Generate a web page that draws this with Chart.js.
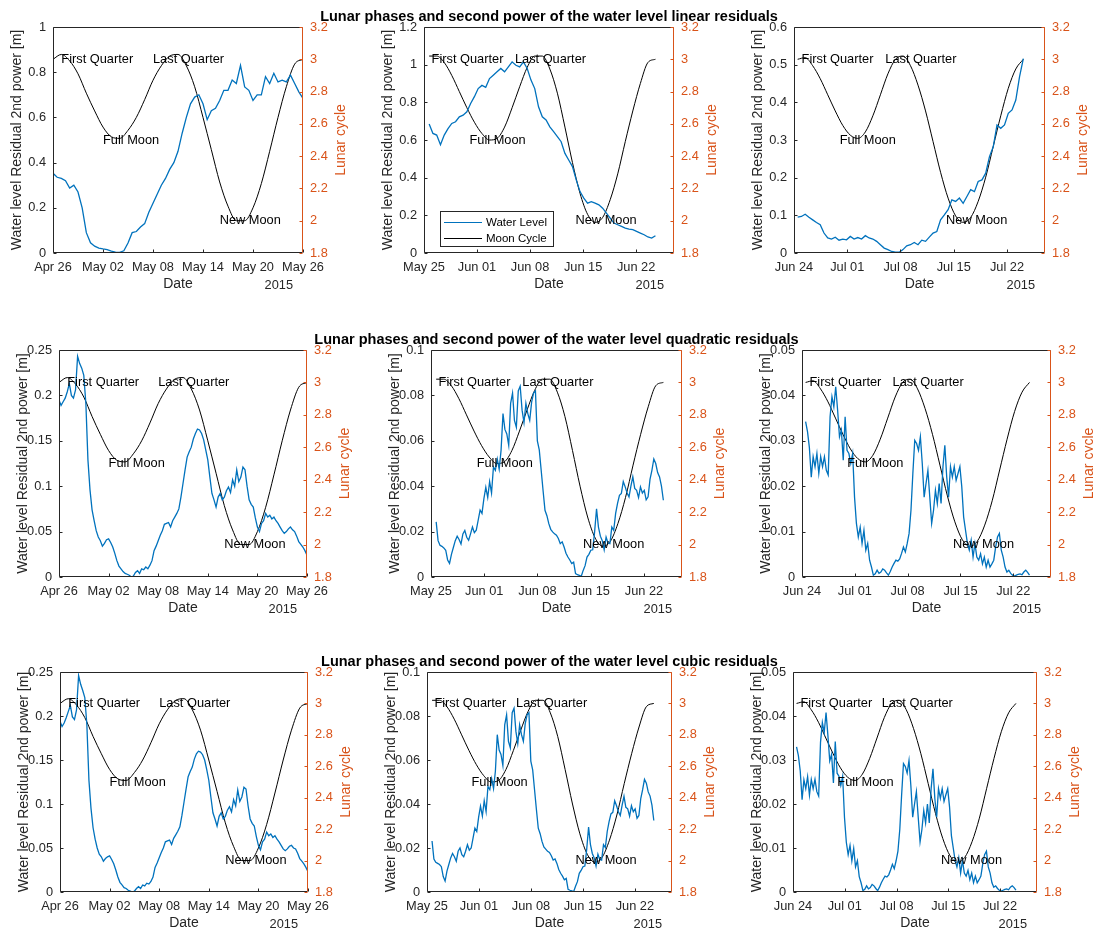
<!DOCTYPE html>
<html>
<head>
<meta charset="utf-8">
<title>Lunar phases and water level residuals</title>
<script src="https://cdn.jsdelivr.net/npm/chart.js@4.4.1/dist/chart.umd.min.js"></script>
<style>
  html, body { margin: 0; padding: 0; background: #fff; }
  body { width: 1093px; height: 931px; position: relative; overflow: hidden; }
  canvas { position: absolute; }
  .fig-title {
    position: absolute; width: 640px; text-align: center; white-space: nowrap;
    font: bold 14.5px "Liberation Sans", Arial, Helvetica, sans-serif; line-height: 16px; color: #000;
  }
</style>
</head>
<body>
<script>
// --- Date axes (days after the first tick of each window) ---
const tickDaysApr = [0, 6, 12, 18, 24, 30];
const tickLabelsApr = ['Apr 26', 'May 02', 'May 08', 'May 14', 'May 20', 'May 26'];
const tickDaysWeekly = [0, 7, 14, 21, 28];
const tickLabelsMay = ['May 25', 'Jun 01', 'Jun 08', 'Jun 15', 'Jun 22'];
const tickLabelsJun = ['Jun 24', 'Jul 01', 'Jul 08', 'Jul 15', 'Jul 22'];
const yearLabel = '2015';

// first / last sample time of each window, in days
const spanApr = [0, 30];
const spanMay = [0.68, 30.55];
const spanJun = [0.48, 30.15];

// --- Moon phase annotations ---
const phaseNames = ['First Quarter', 'Full Moon', 'Last Quarter', 'New Moon'];
const phaseDays = [1, 6, 12, 20];
const phaseLevels = [3, 2.5, 3, 2];

// --- Lunar cycle (one value per day) ---
const moonApr = [3.00, 3.03, 2.99, 2.91, 2.79, 2.68, 2.58, 2.52, 2.51, 2.56, 2.64, 2.75, 2.87, 2.96, 3.02, 3.03,
  2.96, 2.83, 2.64, 2.44, 2.24, 2.09, 2.00, 2.00, 2.08, 2.23, 2.43, 2.64, 2.83, 2.97, 3.00];
const moonMay = [3.02, 3.02, 2.98, 2.90, 2.80, 2.70, 2.61, 2.54, 2.50, 2.51, 2.58, 2.70, 2.83, 2.95, 3.02, 3.02,
  2.94, 2.79, 2.58, 2.36, 2.17, 2.04, 1.99, 2.02, 2.13, 2.29, 2.49, 2.68, 2.85, 2.98, 3.00];
const moonJun = [3.00, 3.01, 2.96, 2.88, 2.78, 2.68, 2.59, 2.53, 2.51, 2.55, 2.65, 2.78, 2.91, 3.00, 3.02, 2.96,
  2.84, 2.68, 2.49, 2.30, 2.14, 2.03, 1.99, 2.02, 2.12, 2.27, 2.46, 2.65, 2.82, 2.94, 3.00];

// --- Squared residuals, linear fit (12 h samples) ---
const linApr = [0.353, 0.335, 0.33, 0.32, 0.287, 0.30, 0.27, 0.20, 0.09, 0.045,
  0.03, 0.022, 0.018, 0.015, 0.008, 0.004, 0.003, 0.01, 0.044, 0.09,
  0.095, 0.115, 0.13, 0.18, 0.22, 0.26, 0.30, 0.33, 0.37, 0.40,
  0.45, 0.53, 0.60, 0.66, 0.69, 0.70, 0.66, 0.59, 0.63, 0.64,
  0.675, 0.72, 0.72, 0.765, 0.75, 0.83, 0.735, 0.72, 0.675, 0.70,
  0.70, 0.78, 0.75, 0.795, 0.757, 0.765, 0.757, 0.787, 0.75, 0.713, 0.684];
const linMay = [0.685, 0.635, 0.626, 0.575, 0.626, 0.66, 0.688, 0.697, 0.723, 0.732,
  0.75, 0.794, 0.83, 0.873, 0.89, 0.88, 0.926, 0.944, 0.962, 0.98,
  0.962, 0.988, 1.015, 0.997, 0.988, 1.015, 0.98, 0.918, 0.873, 0.776,
  0.723, 0.706, 0.67, 0.644, 0.618, 0.591, 0.529, 0.494, 0.459, 0.388,
  0.326, 0.291, 0.265, 0.273, 0.265, 0.256, 0.238, 0.212, 0.185, 0.159,
  0.15, 0.141, 0.132, 0.127, 0.124, 0.115, 0.106, 0.097, 0.085, 0.079, 0.092];
const linJun = [0.095, 0.097, 0.103, 0.095, 0.088, 0.081, 0.075, 0.053, 0.040, 0.037,
  0.042, 0.034, 0.037, 0.035, 0.044, 0.037, 0.041, 0.037, 0.046, 0.040,
  0.037, 0.031, 0.022, 0.013, 0.009, 0.004, 0.002, 0.002, 0.009, 0.019,
  0.022, 0.028, 0.022, 0.034, 0.031, 0.042, 0.053, 0.057, 0.088, 0.101,
  0.115, 0.141, 0.137, 0.146, 0.132, 0.150, 0.168, 0.163, 0.190, 0.194,
  0.212, 0.256, 0.282, 0.340, 0.331, 0.340, 0.371, 0.380, 0.406, 0.468, 0.516];

// --- Squared residuals, quadratic fit (6 h samples) ---
const quadApr = [0.195, 0.189, 0.193, 0.197, 0.204, 0.213, 0.200, 0.197, 0.206, 0.243, 0.235, 0.230,
  0.222, 0.191, 0.129, 0.096, 0.074, 0.062, 0.051, 0.044, 0.040, 0.034, 0.037, 0.041,
  0.042, 0.038, 0.033, 0.026, 0.018, 0.012, 0.009, 0.006, 0.004, 0.003, 0.002, 0.000,
  0.001, 0.005, 0.007, 0.004, 0.009, 0.008, 0.011, 0.009, 0.013, 0.018, 0.029, 0.034,
  0.040, 0.046, 0.051, 0.058, 0.059, 0.060, 0.055, 0.062, 0.066, 0.070, 0.075, 0.088,
  0.103, 0.118, 0.132, 0.138, 0.143, 0.152, 0.158, 0.163, 0.162, 0.158, 0.151, 0.140,
  0.129, 0.110, 0.092, 0.085, 0.077, 0.088, 0.092, 0.085, 0.088, 0.095, 0.099, 0.093,
  0.107, 0.100, 0.118, 0.105, 0.110, 0.121, 0.118, 0.100, 0.085, 0.080, 0.077, 0.065,
  0.055, 0.050, 0.059, 0.062, 0.070, 0.066, 0.068, 0.064, 0.066, 0.062, 0.059, 0.055,
  0.051, 0.048, 0.050, 0.053, 0.055, 0.052, 0.050, 0.045, 0.039, 0.036, 0.033, 0.029, 0.024];
const quadMay = [0.0243, 0.016, 0.014, 0.0135, 0.0128, 0.0118, 0.0075, 0.006, 0.010, 0.013,
  0.016, 0.018, 0.0165, 0.0145, 0.019, 0.0205, 0.0175, 0.0162, 0.019, 0.022,
  0.0195, 0.0206, 0.025, 0.0295, 0.028, 0.0345, 0.0395, 0.035, 0.042, 0.037,
  0.0485, 0.047, 0.052, 0.0475, 0.0559, 0.072, 0.065, 0.063, 0.058, 0.0765,
  0.081, 0.069, 0.066, 0.082, 0.084, 0.0735, 0.068, 0.0765, 0.072, 0.069,
  0.077, 0.081, 0.082, 0.060, 0.056, 0.047, 0.038, 0.0294, 0.027, 0.0235,
  0.021, 0.0199, 0.019, 0.0184, 0.017, 0.0147, 0.0155, 0.0132, 0.0105, 0.0088,
  0.0075, 0.0059, 0.0065, 0.0015, 0.001, 0.0007, 0.0003, 0.0029, 0.005, 0.0088,
  0.010, 0.0118, 0.012, 0.020, 0.030, 0.022, 0.018, 0.016, 0.012, 0.0176,
  0.015, 0.0147, 0.022, 0.0206, 0.028, 0.0324, 0.036, 0.0368, 0.042, 0.0397,
  0.037, 0.0353, 0.040, 0.0441, 0.039, 0.0382, 0.035, 0.0397, 0.037, 0.0382,
  0.034, 0.0353, 0.043, 0.047, 0.052, 0.050, 0.046, 0.0441, 0.040, 0.0338];
const quadJun = [0.0342, 0.032, 0.0285, 0.022, 0.0265, 0.0243, 0.0272, 0.0228, 0.0265, 0.0243,
  0.0265, 0.0235, 0.0225, 0.0353, 0.0397, 0.0375, 0.0419, 0.0368, 0.0309, 0.0324,
  0.0257, 0.0353, 0.0279, 0.0272, 0.025, 0.0272, 0.0176, 0.0118, 0.0088, 0.011,
  0.0074, 0.0103, 0.0059, 0.0074, 0.0037, 0.0022, 0.0004, 0.0007, 0.0015, 0.0008,
  0.0011, 0.0018, 0.0015, 0.0009, 0.0004, 0.0012, 0.0022, 0.003, 0.0037, 0.0035,
  0.004, 0.0052, 0.0066, 0.0055, 0.0074, 0.0096, 0.0147, 0.0228, 0.0301, 0.0294,
  0.0279, 0.0309, 0.025, 0.0176, 0.0206, 0.0235, 0.0176, 0.0118, 0.0147, 0.0191,
  0.0162, 0.0206, 0.0162, 0.0243, 0.029, 0.022, 0.0176, 0.0243, 0.022, 0.0243,
  0.0213, 0.0228, 0.0243, 0.0199, 0.0132, 0.0103, 0.0074, 0.0059, 0.0081, 0.0044,
  0.0074, 0.0044, 0.0037, 0.0051, 0.0029, 0.0044, 0.0022, 0.0037, 0.0022, 0.0029,
  0.0037, 0.0066, 0.0088, 0.0096, 0.0059, 0.0044, 0.0022, 0.0011, 0.0015, 0.0008,
  0.0004, 0.0002, 0.0004, 0.0006, 0.0007, 0.0005, 0.0011, 0.0015, 0.001, 0.0004];

// --- Squared residuals, cubic fit (6 h samples) ---
const cubApr = [0.194, 0.188, 0.192, 0.198, 0.205, 0.212, 0.199, 0.196, 0.207, 0.246, 0.236, 0.229,
  0.221, 0.190, 0.127, 0.095, 0.073, 0.060, 0.050, 0.043, 0.040, 0.035, 0.038, 0.040,
  0.041, 0.037, 0.032, 0.025, 0.017, 0.011, 0.008, 0.005, 0.004, 0.002, 0.001, 0.000,
  0.001, 0.004, 0.006, 0.004, 0.008, 0.007, 0.010, 0.009, 0.012, 0.017, 0.028, 0.033,
  0.039, 0.045, 0.050, 0.057, 0.058, 0.059, 0.054, 0.061, 0.065, 0.069, 0.074, 0.087,
  0.102, 0.117, 0.131, 0.137, 0.142, 0.151, 0.157, 0.160, 0.159, 0.156, 0.150, 0.139,
  0.127, 0.108, 0.090, 0.083, 0.075, 0.086, 0.090, 0.083, 0.086, 0.093, 0.097, 0.091,
  0.105, 0.098, 0.116, 0.103, 0.108, 0.119, 0.117, 0.098, 0.083, 0.078, 0.075, 0.063,
  0.053, 0.048, 0.057, 0.060, 0.068, 0.064, 0.066, 0.062, 0.064, 0.060, 0.057, 0.053,
  0.049, 0.047, 0.049, 0.052, 0.053, 0.050, 0.049, 0.044, 0.038, 0.035, 0.032, 0.028, 0.023];
const cubMay = [0.0232, 0.015, 0.0135, 0.013, 0.0125, 0.0115, 0.007, 0.005, 0.0095, 0.0125,
  0.0155, 0.0175, 0.016, 0.014, 0.0185, 0.020, 0.017, 0.016, 0.0185, 0.0215,
  0.019, 0.020, 0.0245, 0.029, 0.0275, 0.034, 0.039, 0.0345, 0.0415, 0.0365,
  0.048, 0.0465, 0.0515, 0.047, 0.055, 0.0715, 0.0645, 0.0625, 0.0575, 0.076,
  0.0805, 0.0685, 0.0655, 0.0815, 0.0835, 0.073, 0.0675, 0.076, 0.0715, 0.0685,
  0.0765, 0.0805, 0.0815, 0.0595, 0.0555, 0.0465, 0.0375, 0.029, 0.0265, 0.023,
  0.0205, 0.0195, 0.0185, 0.018, 0.0165, 0.0145, 0.015, 0.013, 0.0102, 0.0085,
  0.0072, 0.0056, 0.0062, 0.0012, 0.0008, 0.0005, 0.0002, 0.0026, 0.0047, 0.0085,
  0.0098, 0.0115, 0.0118, 0.0195, 0.0295, 0.0215, 0.0175, 0.0155, 0.0118, 0.0172,
  0.0148, 0.0145, 0.0215, 0.0202, 0.0275, 0.032, 0.0355, 0.0362, 0.0415, 0.0392,
  0.0365, 0.0348, 0.0395, 0.0435, 0.0385, 0.0378, 0.0345, 0.0392, 0.0365, 0.0378,
  0.0335, 0.0348, 0.0425, 0.0465, 0.0512, 0.0495, 0.0455, 0.0436, 0.0395, 0.0325];
const cubJun = [0.033, 0.031, 0.0275, 0.021, 0.0255, 0.0235, 0.0262, 0.022, 0.0256, 0.0235,
  0.0256, 0.0228, 0.0218, 0.034, 0.0385, 0.0362, 0.0408, 0.0356, 0.0298, 0.0313,
  0.0248, 0.0342, 0.027, 0.0263, 0.0242, 0.0263, 0.017, 0.0113, 0.0085, 0.0106,
  0.0071, 0.0099, 0.0057, 0.0071, 0.0035, 0.0021, 0.0003, 0.0006, 0.0014, 0.0007,
  0.001, 0.0017, 0.0014, 0.0008, 0.0003, 0.0011, 0.0021, 0.0029, 0.0036, 0.0034,
  0.0039, 0.005, 0.0063, 0.0053, 0.0071, 0.0093, 0.0142, 0.0221, 0.0292, 0.0285,
  0.027, 0.0299, 0.0242, 0.017, 0.02, 0.0228, 0.017, 0.0114, 0.0142, 0.0185,
  0.0157, 0.02, 0.0157, 0.0235, 0.028, 0.0213, 0.017, 0.0235, 0.0213, 0.0235,
  0.0206, 0.0221, 0.0235, 0.0193, 0.0128, 0.01, 0.0072, 0.0057, 0.0078, 0.0043,
  0.0072, 0.0043, 0.0036, 0.0049, 0.0028, 0.0043, 0.0021, 0.0036, 0.0021, 0.0028,
  0.0036, 0.0064, 0.0085, 0.0093, 0.0057, 0.0043, 0.0021, 0.0011, 0.0014, 0.0008,
  0.0004, 0.0002, 0.0004, 0.0006, 0.0007, 0.0005, 0.0011, 0.0014, 0.001, 0.0004];

// --- Look ---
const AXIS_INK = '#262626';
const LUNAR_INK = '#D95319';
const WATER_BLUE = '#0072BD';
const FONT = '"Liberation Sans", Arial, Helvetica, sans-serif';
const FONT_SIZE = 12.8;     // ticks, annotations, year
const LABEL_SIZE = 14;      // axis labels are a bit larger
const PAD_L = 52, PAD_R = 52, PAD_T = 22, PAD_B = 40;

Chart.defaults.font.family = FONT;
Chart.defaults.font.size = FONT_SIZE;
Chart.defaults.color = AXIS_INK;

// plot-area rectangles [left, top, width, height] in page pixels
const panels = [
  { water: linApr, moon: moonApr, span: spanApr, yMax: 1, yStep: 0.2, xMax: 30,
    tickDays: tickDaysApr, tickLabels: tickLabelsApr, box: [53, 27, 250, 226] },
  { water: linMay, moon: moonMay, span: spanMay, yMax: 1.2, yStep: 0.2, xMax: 33,
    tickDays: tickDaysWeekly, tickLabels: tickLabelsMay, box: [424, 27, 250, 226],
    title: 'Lunar phases and second power of the water level linear residuals', legend: true },
  { water: linJun, moon: moonJun, span: spanJun, yMax: 0.6, yStep: 0.1, xMax: 33,
    tickDays: tickDaysWeekly, tickLabels: tickLabelsJun, box: [794, 27, 251, 226] },

  { water: quadApr, moon: moonApr, span: spanApr, yMax: 0.25, yStep: 0.05, xMax: 30,
    tickDays: tickDaysApr, tickLabels: tickLabelsApr, box: [59, 350, 248, 227] },
  { water: quadMay, moon: moonMay, span: spanMay, yMax: 0.1, yStep: 0.02, xMax: 33,
    tickDays: tickDaysWeekly, tickLabels: tickLabelsMay, box: [431, 350, 251, 227],
    title: 'Lunar phases and second power of the water level quadratic residuals' },
  { water: quadJun, moon: moonJun, span: spanJun, yMax: 0.05, yStep: 0.01, xMax: 33,
    tickDays: tickDaysWeekly, tickLabels: tickLabelsJun, box: [802, 350, 249, 227] },

  { water: cubApr, moon: moonApr, span: spanApr, yMax: 0.25, yStep: 0.05, xMax: 30,
    tickDays: tickDaysApr, tickLabels: tickLabelsApr, box: [60, 672, 248, 220] },
  { water: cubMay, moon: moonMay, span: spanMay, yMax: 0.1, yStep: 0.02, xMax: 33,
    tickDays: tickDaysWeekly, tickLabels: tickLabelsMay, box: [427, 672, 245, 220],
    title: 'Lunar phases and second power of the water level cubic residuals' },
  { water: cubJun, moon: moonJun, span: spanJun, yMax: 0.05, yStep: 0.01, xMax: 33,
    tickDays: tickDaysWeekly, tickLabels: tickLabelsJun, box: [793, 672, 244, 220] }
];

// spread a series evenly over its sampling window
function samples(values, span) {
  const dt = (span[1] - span[0]) / (values.length - 1);
  return values.map((v, i) => ({ x: span[0] + i * dt, y: v }));
}

// plain tick numbers: 1 instead of 1.0, 0.2 instead of 0.20
const plainNumber = v => String(Number(v.toFixed(4)));

// axes box, inward ticks, phase labels, right label and legend
function makeFramePlugin(panel) {
  return {
    id: 'frame',
    afterDatasetsDraw(chart) {
      const { ctx, chartArea: a, scales } = chart;
      const L = a.left + 0.5, R = a.right - 0.5, T = a.top + 0.5, B = a.bottom - 0.5;
      ctx.save();
      ctx.lineWidth = 1;

      ctx.strokeStyle = AXIS_INK;
      ctx.beginPath();
      ctx.moveTo(R, T); ctx.lineTo(L, T); ctx.lineTo(L, B); ctx.lineTo(R, B);
      scales.x.ticks.forEach(t => {
        const px = Math.round(scales.x.getPixelForValue(t.value)) + 0.5;
        ctx.moveTo(px, B); ctx.lineTo(px, B - 3);
      });
      scales.y.ticks.forEach(t => {
        const py = Math.round(scales.y.getPixelForValue(t.value)) + 0.5;
        ctx.moveTo(L, py); ctx.lineTo(L + 3, py);
      });
      ctx.stroke();

      ctx.strokeStyle = LUNAR_INK;
      ctx.beginPath();
      ctx.moveTo(R, T); ctx.lineTo(R, B);
      scales.y2.ticks.forEach(t => {
        const py = Math.round(scales.y2.getPixelForValue(t.value)) + 0.5;
        ctx.moveTo(R, py); ctx.lineTo(R - 3, py);
      });
      ctx.stroke();

      ctx.font = `${FONT_SIZE}px ${FONT}`;
      ctx.fillStyle = '#000';
      ctx.textAlign = 'left';
      ctx.textBaseline = 'middle';
      phaseNames.forEach((name, i) => {
        ctx.fillText(name, scales.x.getPixelForValue(phaseDays[i]), scales.y2.getPixelForValue(phaseLevels[i]));
      });

      ctx.fillStyle = AXIS_INK;
      ctx.textAlign = 'right';
      ctx.fillText(yearLabel, a.right - 10, a.bottom + 32);

      ctx.save();
      ctx.font = `${LABEL_SIZE}px ${FONT}`;
      ctx.translate(a.right + 38, (a.top + a.bottom) / 2);
      ctx.rotate(-Math.PI / 2);
      ctx.textAlign = 'center';
      ctx.fillStyle = LUNAR_INK;
      ctx.fillText('Lunar cycle', 0, 0);
      ctx.restore();

      if (panel.legend) {
        const lx = a.left + 16, ly = a.top + 184, lw = 113, lh = 35;
        ctx.fillStyle = '#fff';
        ctx.fillRect(lx, ly, lw, lh);
        ctx.strokeStyle = AXIS_INK;
        ctx.strokeRect(lx + 0.5, ly + 0.5, lw, lh);
        ctx.font = `11.5px ${FONT}`;
        ctx.textAlign = 'left';
        chart.data.datasets.forEach((ds, i) => {
          const yy = ly + 11 + i * 16 + 0.5;
          ctx.strokeStyle = ds.borderColor;
          ctx.lineWidth = 1;
          ctx.beginPath();
          ctx.moveTo(lx + 4, yy); ctx.lineTo(lx + 42, yy);
          ctx.stroke();
          ctx.fillStyle = '#000';
          ctx.fillText(ds.label, lx + 46, yy);
        });
      }
      ctx.restore();
    }
  };
}

panels.forEach(panel => {
  const [left, top, w, h] = panel.box;
  const canvas = document.createElement('canvas');
  canvas.width = w + PAD_L + PAD_R;
  canvas.height = h + PAD_T + PAD_B;
  canvas.style.left = (left - PAD_L) + 'px';
  canvas.style.top = (top - PAD_T) + 'px';
  document.body.appendChild(canvas);

  if (panel.title) {
    const t = document.createElement('div');
    t.className = 'fig-title';
    t.textContent = panel.title;
    t.style.left = (left + w / 2 - 320) + 'px';
    t.style.top = (top - 11 - 8) + 'px';
    document.body.appendChild(t);
  }

  new Chart(canvas, {
    type: 'line',
    data: {
      datasets: [
        { label: 'Water Level', data: samples(panel.water, panel.span), yAxisID: 'y',
          borderColor: WATER_BLUE, borderWidth: 1.3, pointRadius: 0, tension: 0 },
        { label: 'Moon Cycle', data: samples(panel.moon, panel.span), yAxisID: 'y2',
          borderColor: '#000', borderWidth: 1, pointRadius: 0, cubicInterpolationMode: 'monotone' }
      ]
    },
    options: {
      responsive: false,
      animation: false,
      devicePixelRatio: 1,
      layout: { padding: { top: PAD_T, left: 0, right: 0, bottom: 0 } },
      plugins: { legend: { display: false }, tooltip: { enabled: false } },
      scales: {
        x: {
          type: 'linear', min: 0, max: panel.xMax,
          grid: { display: false, drawTicks: false }, border: { display: false },
          afterBuildTicks: s => { s.ticks = panel.tickDays.map(v => ({ value: v })); },
          afterFit: s => { s.height = PAD_B; },
          ticks: { autoSkip: false, maxRotation: 0, padding: 7, color: AXIS_INK,
                   callback: (v, i) => panel.tickLabels[i] },
          title: { display: true, text: 'Date', color: AXIS_INK, font: { size: LABEL_SIZE },
                   padding: { top: 0, bottom: 0 } }
        },
        y: {
          position: 'left', min: 0, max: panel.yMax,
          grid: { display: false, drawTicks: false }, border: { display: false },
          afterFit: s => { s.width = PAD_L; },
          ticks: { stepSize: panel.yStep, padding: 7, color: AXIS_INK, callback: plainNumber },
          title: { display: true, text: 'Water level Residual 2nd power [m]', color: AXIS_INK,
                   font: { size: LABEL_SIZE }, padding: { top: 8, bottom: 0 } }
        },
        y2: {
          position: 'right', min: 1.8, max: 3.2,
          grid: { display: false, drawTicks: false }, border: { display: false },
          afterFit: s => { s.width = PAD_R; },
          ticks: { stepSize: 0.2, padding: 7, color: LUNAR_INK, callback: plainNumber }
        }
      }
    },
    plugins: [makeFramePlugin(panel)]
  });
});
</script>
</body>
</html>
